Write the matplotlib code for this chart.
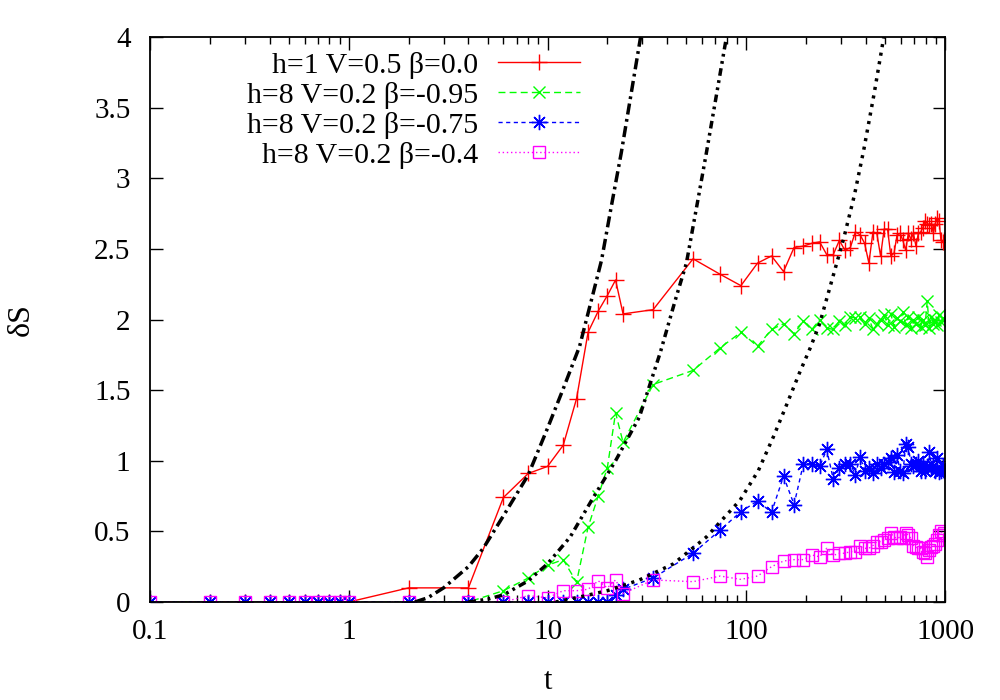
import numpy as np
import matplotlib
matplotlib.use('Agg')
import matplotlib.pyplot as plt
from matplotlib.ticker import FixedLocator, LogLocator, NullFormatter, FuncFormatter

plt.rcParams['font.family'] = ['Liberation Serif', 'DejaVu Serif']
plt.rcParams['font.size'] = 21

# time grid of the simulation output
t_short = [0.1, 0.2, 0.3, 0.4, 0.5, 0.6, 0.7, 0.8, 0.9, 1.0]
t_mid = [2, 4, 6, 8, 10, 12, 14, 16, 18, 20, 22, 24]
t_long = [34, 54, 74, 94, 114, 134, 154, 174, 194, 214,
          234, 254, 274, 294, 314, 334, 354, 374, 394, 414,
          434, 454, 474, 494, 514, 534, 554, 574, 594, 614,
          634, 654, 674, 694, 714, 734, 754, 774, 794, 814,
          834, 854, 874, 894, 914, 934, 954, 974, 994]
t = t_short + t_mid + t_long

zeros_short = [0.0] * len(t_short)

# h=1 V=0.5 beta=0.0
s_red = zeros_short + [
    0.10, 0.10, 0.74, 0.91, 0.96, 1.11, 1.44, 1.91, 2.06, 2.17, 2.28, 2.04,
    2.07, 2.43, 2.32, 2.24, 2.40, 2.45, 2.34, 2.51, 2.52, 2.54,
    2.55, 2.46, 2.46, 2.56, 2.49, 2.51, 2.62, 2.60, 2.54, 2.40,
    2.62, 2.61, 2.45, 2.64, 2.64, 2.45, 2.47, 2.60, 2.61, 2.56,
    2.49, 2.61, 2.57, 2.61, 2.52, 2.61, 2.62, 2.65, 2.70, 2.68,
    2.67, 2.68, 2.61, 2.68, 2.72, 2.70, 2.56, 2.55, 2.56]

# h=8 V=0.2 beta=-0.95
s_green = zeros_short + [
    0.0, 0.0, 0.08, 0.17, 0.26, 0.30, 0.14, 0.53, 0.75, 0.95, 1.34, 1.13,
    1.54, 1.64, 1.80, 1.91, 1.81, 1.93, 1.97, 1.90, 1.99, 1.93,
    2.00, 1.94, 1.93, 1.99, 1.96, 2.02, 2.01, 2.02, 1.97, 2.01,
    1.93, 1.97, 2.00, 2.03, 1.96, 2.04, 1.95, 2.01, 1.99, 2.05,
    1.96, 2.02, 1.94, 2.00, 1.97, 2.02, 1.95, 2.00, 1.96, 2.13,
    1.94, 2.02, 1.97, 2.00, 1.96, 2.03, 1.98, 2.01, 2.00]

# h=8 V=0.2 beta=-0.75
s_blue = zeros_short + [
    0.0, 0.0, 0.0, 0.0, 0.0, 0.0, 0.0, 0.0, 0.0, 0.0, 0.05, 0.09,
    0.17, 0.345, 0.51, 0.64, 0.715, 0.635, 0.89, 0.69, 0.98, 0.98,
    0.96, 1.08, 0.87, 0.95, 0.98, 0.98, 0.90, 1.03, 0.93, 0.95,
    0.91, 0.98, 0.95, 0.98, 0.99, 1.02, 0.92, 1.04, 0.93, 0.91,
    1.12, 1.10, 0.98, 0.96, 0.98, 1.00, 0.93, 0.97, 0.93, 0.96,
    1.06, 0.95, 0.96, 0.93, 1.02, 0.92, 0.93, 0.96, 0.93]

# h=8 V=0.2 beta=-0.4
s_mag = zeros_short + [
    0.0, 0.0, 0.0, 0.045, 0.03, 0.08, 0.08, 0.09, 0.15, 0.10, 0.156, 0.06,
    0.156, 0.144, 0.184, 0.16, 0.184, 0.25, 0.29, 0.30, 0.30, 0.333,
    0.32, 0.38, 0.33, 0.345, 0.345, 0.357, 0.357, 0.393, 0.38, 0.38,
    0.40, 0.428, 0.428, 0.44, 0.45, 0.487, 0.46, 0.45, 0.46, 0.45,
    0.487, 0.474, 0.45, 0.40, 0.39, 0.38, 0.38, 0.357, 0.345, 0.32,
    0.37, 0.39, 0.40, 0.41, 0.44, 0.474, 0.50, 0.474, 0.49]

# black reference curves
c1_t = [2.15, 2.5, 3, 4, 4.75, 6, 8, 10, 12, 14.5, 17, 18.7, 21, 23.5, 26, 29.4]
c1_y = [0, 0.03, 0.10, 0.25, 0.38, 0.61, 0.90, 1.23, 1.51, 1.81, 2.19, 2.42, 2.81, 3.18, 3.55, 4.0]
c2_t = [4, 5, 6, 8, 10, 13, 17, 22, 29, 37, 44, 50, 57, 63, 70, 79.5]
c2_y = [0, 0.02, 0.05, 0.15, 0.27, 0.46, 0.74, 1.00, 1.31, 1.77, 2.14, 2.40, 2.84, 3.18, 3.55, 4.0]
c3_t = [11, 15, 20, 29, 43, 63, 93, 115, 137, 160, 185, 210, 234, 270, 310, 350, 390, 440, 492]
c3_y = [0, 0.04, 0.08, 0.156, 0.27, 0.46, 0.72, 0.93, 1.17, 1.40, 1.62, 1.80, 1.97, 2.28, 2.58, 2.88, 3.20, 3.60, 4.0]

labels = ['h=1 V=0.5 β=0.0', 'h=8 V=0.2 β=-0.95',
          'h=8 V=0.2 β=-0.75', 'h=8 V=0.2 β=-0.4']

fig = plt.figure(figsize=(10, 7), dpi=100)
ax = fig.add_axes([0.15, 0.14, 0.795, 0.807])

ax.plot(t, s_red, color='#ff0000', lw=1, marker='+', ms=11, mew=1, label=labels[0])
ax.plot(t, s_green, color='#00ff00', lw=1, dashes=(5, 3), marker='x', ms=9, mew=1, label=labels[1])
ax.plot(t, s_blue, color='#0000ff', lw=1, dashes=(3, 2.5), marker=(8, 2, 0), ms=11, mew=1, label=labels[2])
ax.plot(t, s_mag, color='#ff00ff', lw=1, dashes=(1, 2), marker='s', ms=9, mew=1,
        mfc='none', label=labels[3])

ax.plot(c1_t, c1_y, color='k', lw=2.5, dashes=(3.2, 1.3, 0.8, 1.3))
ax.plot(c2_t, c2_y, color='k', lw=2.5, dashes=(2.2, 1.3, 0.8, 1.3, 0.8, 1.3))
ax.plot(c3_t, c3_y, color='k', lw=2.5, dashes=(0.9, 1.6))

ax.set_xscale('log')
ax.set_xlim(0.1, 1000)
ax.set_ylim(0, 4)

ax.xaxis.set_major_locator(FixedLocator([0.1, 1, 10, 100, 1000]))
ax.xaxis.set_major_formatter(FuncFormatter(lambda v, p: '%g' % v))
ax.xaxis.set_minor_locator(LogLocator(base=10, subs=np.arange(2, 10) * 1.0, numticks=20))
ax.xaxis.set_minor_formatter(NullFormatter())
ax.yaxis.set_major_locator(FixedLocator([0, 0.5, 1, 1.5, 2, 2.5, 3, 3.5, 4]))
ax.yaxis.set_major_formatter(FuncFormatter(lambda v, p: '%g' % v))

ax.tick_params(which='both', direction='in', top=True, right=True, width=1)
ax.tick_params(which='major', length=9)
ax.tick_params(which='minor', length=5)
ax.tick_params(axis='x', which='major', pad=12)
ax.tick_params(axis='y', which='major', pad=14)
for sp in ax.spines.values():
    sp.set_linewidth(1.3)

ax.set_xlabel('t', labelpad=16, fontsize=22)
ax.set_ylabel('δS', labelpad=42, fontsize=23)

ax.legend(loc='upper right', bbox_to_anchor=(0.541, 0.974), markerfirst=False,
          frameon=False, numpoints=1, handlelength=2.74, handletextpad=0.67,
          labelspacing=0.1, borderaxespad=0, borderpad=0, fontsize=21.5)

fig.savefig('out.png', dpi=100)
